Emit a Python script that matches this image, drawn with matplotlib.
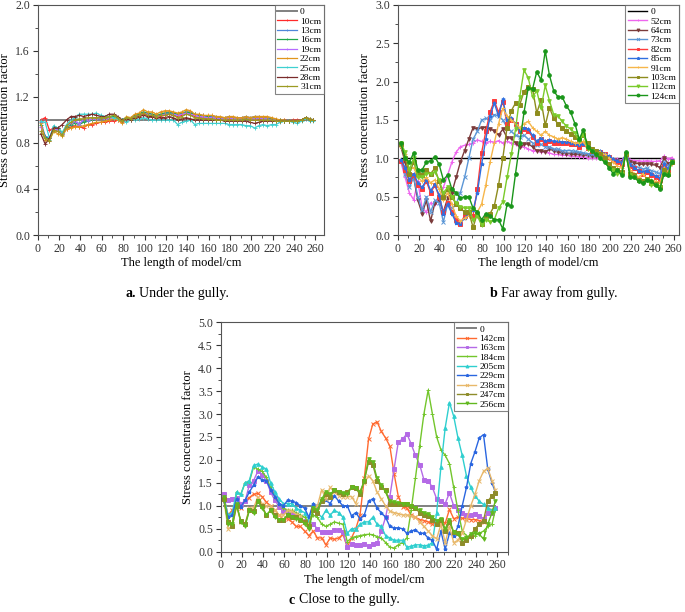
import matplotlib
matplotlib.use("Agg")
import matplotlib.pyplot as plt
from matplotlib.ticker import MultipleLocator, FormatStrFormatter

plt.rcParams['font.family'] = ['Liberation Serif', 'DejaVu Serif']

# sample positions along the model (cm)
x_cm = [3, 7, 11, 15, 19, 23, 27, 31, 35, 39,
        43, 47, 51, 55, 59, 63, 67, 71, 75, 79,
        83, 87, 91, 95, 99, 103, 107, 111, 115, 119,
        123, 127, 131, 135, 139, 143, 147, 151, 155, 159,
        163, 167, 171, 175, 179, 183, 187, 191, 195, 199,
        203, 207, 211, 215, 219, 223, 227, 231, 235, 239,
        243, 247, 251, 255, 258]
base_x = [3, 258]
base_y = [1.0, 1.0]

# ---- a. under the gully ----
a_labels = ['10cm', '13cm', '16cm', '19cm', '22cm', '25cm', '28cm', '31cm']
a_10 = [1.00, 1.02, 0.91, 0.93, 0.90, 0.88, 0.92, 0.94, 0.95, 0.94,
        0.93, 0.96, 0.96, 0.97, 0.98, 0.98, 0.99, 0.99, 1.00, 0.98,
        1.01, 1.00, 1.02, 1.03, 1.05, 1.04, 1.03, 1.02, 1.03, 1.04,
        1.05, 1.04, 1.03, 1.04, 1.06, 1.05, 1.03, 1.02, 1.02, 1.01,
        1.01, 1.01, 1.00, 1.00, 1.01, 1.01, 1.00, 1.01, 1.02, 1.01,
        1.00, 1.01, 1.01, 1.02, 1.01, 1.00, 0.99, 1.00, 0.99, 1.00,
        1.00, 1.00, 1.02, 1.00, 1.00]
a_13 = [0.98, 0.86, 0.84, 0.93, 0.92, 0.88, 0.93, 0.96, 0.98, 0.97,
        0.99, 0.99, 1.00, 1.01, 1.02, 1.01, 1.02, 1.03, 1.02, 1.00,
        1.02, 1.01, 1.04, 1.05, 1.07, 1.05, 1.05, 1.04, 1.05, 1.06,
        1.07, 1.06, 1.05, 1.06, 1.07, 1.07, 1.05, 1.04, 1.04, 1.03,
        1.03, 1.03, 1.02, 1.02, 1.03, 1.02, 1.02, 1.02, 1.03, 1.02,
        1.03, 1.03, 1.02, 1.02, 1.01, 1.00, 1.00, 0.99, 0.99, 0.99,
        0.99, 1.00, 1.02, 1.01, 1.00]
a_16 = [0.96, 0.85, 0.83, 0.94, 0.93, 0.89, 0.94, 0.96, 0.97, 0.96,
        0.98, 1.00, 1.00, 1.01, 1.02, 1.02, 1.03, 1.03, 1.02, 1.00,
        1.02, 1.02, 1.04, 1.05, 1.07, 1.06, 1.05, 1.04, 1.05, 1.06,
        1.06, 1.06, 1.05, 1.06, 1.07, 1.06, 1.05, 1.04, 1.03, 1.03,
        1.02, 1.02, 1.02, 1.01, 1.02, 1.01, 1.01, 1.01, 1.02, 1.01,
        1.02, 1.02, 1.01, 1.01, 1.01, 1.00, 1.00, 0.99, 0.99, 0.99,
        0.99, 1.00, 1.02, 1.01, 1.00]
a_19 = [0.94, 0.84, 0.82, 0.92, 0.91, 0.88, 0.95, 0.97, 0.99, 0.96,
        1.01, 1.00, 1.01, 1.01, 1.02, 1.01, 1.02, 1.02, 1.01, 0.99,
        1.01, 1.01, 1.03, 1.04, 1.06, 1.05, 1.04, 1.03, 1.04, 1.05,
        1.05, 1.05, 1.04, 1.05, 1.06, 1.05, 1.04, 1.03, 1.03, 1.02,
        1.02, 1.02, 1.01, 1.01, 1.02, 1.01, 1.01, 1.01, 1.02, 1.01,
        1.01, 1.02, 1.01, 1.01, 1.00, 1.00, 0.99, 0.99, 0.99, 0.99,
        0.99, 1.00, 1.01, 1.00, 1.00]
a_22 = [0.97, 0.83, 0.82, 0.90, 0.88, 0.86, 0.92, 0.93, 0.94, 0.94,
        0.95, 0.96, 0.97, 0.98, 0.98, 0.99, 1.00, 1.01, 1.00, 0.97,
        1.03, 1.02, 1.05, 1.06, 1.09, 1.07, 1.07, 1.05, 1.07, 1.08,
        1.08, 1.07, 1.06, 1.07, 1.09, 1.08, 1.05, 1.05, 1.04, 1.04,
        1.04, 1.03, 1.03, 1.02, 1.03, 1.03, 1.02, 1.02, 1.03, 1.02,
        1.03, 1.03, 1.03, 1.03, 1.02, 1.01, 1.00, 1.00, 0.99, 0.99,
        0.99, 1.00, 1.02, 1.01, 1.00]
a_25 = [0.99, 0.98, 0.84, 0.95, 0.93, 0.89, 0.96, 1.00, 1.02, 1.05,
        1.05, 1.05, 1.05, 1.06, 1.04, 1.03, 1.03, 1.02, 1.01, 1.00,
        0.98, 1.00, 1.00, 1.01, 1.02, 1.01, 1.00, 1.00, 1.00, 1.00,
        1.00, 1.00, 0.96, 0.98, 0.99, 1.00, 0.96, 0.97, 0.97, 0.97,
        0.97, 0.97, 0.97, 0.97, 0.96, 0.96, 0.96, 0.96, 0.95, 0.95,
        0.93, 0.95, 0.96, 0.95, 0.96, 0.96, 0.98, 0.99, 0.99, 0.98,
        0.97, 0.99, 1.01, 0.99, 0.99]
a_28 = [0.88, 0.79, 0.84, 0.93, 0.93, 0.96, 1.00, 1.03, 1.03, 1.04,
        1.03, 1.04, 1.05, 1.04, 1.03, 1.03, 1.05, 1.05, 1.03, 1.00,
        1.01, 1.00, 1.02, 1.03, 1.04, 1.03, 1.03, 1.02, 1.02, 1.02,
        1.03, 1.02, 1.00, 1.01, 1.02, 1.01, 1.00, 1.00, 1.00, 1.00,
        1.00, 1.00, 1.00, 0.99, 0.99, 0.99, 0.99, 0.99, 0.99, 0.98,
        0.97, 0.98, 0.99, 0.99, 0.99, 0.99, 0.99, 0.99, 0.99, 0.99,
        0.99, 1.00, 1.02, 1.00, 1.00]
a_31 = [0.90, 0.84, 0.82, 0.91, 0.90, 0.87, 0.95, 0.98, 1.00, 1.01,
        1.01, 1.02, 1.02, 1.02, 1.02, 1.02, 1.03, 1.04, 1.02, 0.99,
        1.02, 1.01, 1.03, 1.04, 1.06, 1.04, 1.04, 1.03, 1.04, 1.04,
        1.05, 1.04, 1.02, 1.03, 1.05, 1.04, 1.02, 1.02, 1.01, 1.01,
        1.01, 1.00, 1.00, 1.00, 1.00, 1.00, 1.00, 1.00, 1.01, 1.00,
        1.00, 1.00, 1.00, 1.00, 1.00, 0.99, 0.99, 0.99, 0.99, 0.99,
        0.99, 1.00, 1.02, 1.00, 1.00]

# ---- b. far away from gully ----
b_labels = ['52cm', '64cm', '73cm', '82cm', '85cm', '91cm', '103cm', '112cm', '124cm']
b_52 = [0.95, 0.75, 0.55, 0.46, 0.70, 0.35, 0.30, 0.42, 0.40, 0.50,
        0.62, 0.78, 0.95, 1.08, 1.15, 1.17, 1.18, 1.20, 1.24, 1.22,
        1.20, 1.22, 1.21, 1.23, 1.20, 1.22, 1.20, 1.18, 1.15, 1.15,
        1.12, 1.10, 1.10, 1.08, 1.09, 1.07, 1.05, 1.05, 1.04, 1.04,
        1.03, 1.03, 1.02, 1.02, 1.01, 1.00, 1.00, 1.00, 1.00, 1.00,
        0.99, 0.99, 0.98, 1.02, 0.98, 0.97, 0.97, 0.96, 0.97, 0.96,
        0.96, 0.97, 1.03, 0.99, 1.01]
b_64 = [1.15, 0.95, 0.70, 0.75, 0.45, 0.28, 0.45, 0.18, 0.42, 0.45,
        0.30, 0.48, 0.55, 0.75, 0.95, 1.10, 1.25, 1.40, 1.38, 1.40,
        1.40, 1.38, 1.36, 1.30, 1.38, 1.27, 1.26, 1.20, 1.15, 1.18,
        1.19, 1.15, 1.10, 1.10, 1.08, 1.12, 1.10, 1.08, 1.07, 1.06,
        1.06, 1.05, 1.05, 1.04, 1.04, 1.03, 1.03, 1.03, 1.02, 1.00,
        0.98, 0.96, 0.95, 1.05, 0.95, 0.94, 0.93, 0.92, 0.93, 0.92,
        0.91, 0.88, 1.00, 0.93, 0.96]
b_73 = [0.97, 0.80, 0.62, 0.75, 0.50, 0.32, 0.50, 0.30, 0.45, 0.42,
        0.17, 0.40, 0.35, 0.40, 0.55, 0.75, 1.00, 1.25, 1.35, 1.50,
        1.52, 1.50, 1.57, 1.55, 1.50, 1.40, 1.35, 1.30, 1.28, 1.30,
        1.25, 1.20, 1.17, 1.18, 1.15, 1.15, 1.12, 1.12, 1.10, 1.10,
        1.10, 1.09, 1.08, 1.07, 1.06, 1.05, 1.04, 1.04, 1.03, 1.00,
        0.97, 0.96, 0.94, 1.05, 0.93, 0.90, 0.88, 0.86, 0.87, 0.84,
        0.82, 0.80, 0.95, 0.90, 0.96]
b_82 = [0.97, 0.85, 0.70, 0.78, 0.65, 0.60, 0.70, 0.55, 0.65, 0.50,
        0.30, 0.42, 0.30, 0.20, 0.15, 0.25, 0.30, 0.25, 0.60, 1.07,
        1.35, 1.60, 1.75, 1.60, 1.74, 1.45, 1.50, 1.45, 1.35, 1.38,
        1.35, 1.28, 1.20, 1.25, 1.20, 1.22, 1.20, 1.20, 1.20, 1.20,
        1.18, 1.18, 1.15, 1.18, 1.13, 1.10, 1.08, 1.08, 1.05, 1.02,
        0.98, 0.95, 0.93, 1.05, 0.90, 0.87, 0.83, 0.80, 0.82, 0.78,
        0.75, 0.72, 0.90, 0.85, 0.95]
b_85 = [0.98, 0.88, 0.72, 0.80, 0.68, 0.62, 0.72, 0.58, 0.66, 0.52,
        0.28, 0.40, 0.28, 0.16, 0.15, 0.22, 0.28, 0.32, 0.55, 0.92,
        1.25, 1.55, 1.72, 1.55, 1.77, 1.50, 1.52, 1.45, 1.36, 1.40,
        1.38, 1.30, 1.22, 1.27, 1.22, 1.24, 1.22, 1.22, 1.21, 1.21,
        1.20, 1.19, 1.17, 1.19, 1.14, 1.11, 1.09, 1.09, 1.06, 1.03,
        0.99, 0.96, 0.94, 1.06, 0.91, 0.88, 0.84, 0.82, 0.84, 0.80,
        0.77, 0.74, 0.92, 0.86, 0.96]
b_91 = [1.15, 1.05, 0.85, 0.88, 0.75, 0.70, 0.75, 0.68, 0.72, 0.60,
        0.45, 0.55, 0.40, 0.25, 0.18, 0.22, 0.25, 0.35, 0.30, 0.40,
        0.65, 0.95, 1.20, 1.45, 1.65, 1.55, 1.50, 1.45, 1.40, 1.45,
        1.48, 1.40, 1.35, 1.30, 1.35, 1.30, 1.28, 1.25, 1.27, 1.25,
        1.22, 1.20, 1.20, 1.22, 1.12, 1.10, 1.10, 1.08, 1.05, 1.00,
        0.95, 0.90, 0.88, 1.05, 0.85, 0.80, 0.75, 0.80, 0.73, 0.72,
        0.70, 0.68, 0.88, 0.82, 0.93]
b_103 = [1.18, 1.00, 0.80, 0.95, 0.80, 0.78, 0.85, 0.80, 0.87, 0.70,
         0.50, 0.60, 0.50, 0.40, 0.35, 0.30, 0.30, 0.10, 0.28, 0.15,
         0.22, 0.28, 0.38, 0.65, 1.00, 1.40, 1.62, 1.72, 1.70, 1.87,
         1.93, 1.91, 1.59, 1.76, 1.43, 1.66, 1.52, 1.45, 1.40, 1.35,
         1.32, 1.28, 1.25, 1.30, 1.20, 1.12, 1.10, 1.05, 1.00, 0.92,
         0.88, 0.85, 0.82, 1.05, 0.80, 0.78, 0.72, 0.70, 0.73, 0.68,
         0.67, 0.62, 0.85, 0.80, 0.95]
b_112 = [1.20, 1.08, 0.85, 1.00, 0.75, 0.75, 0.80, 0.80, 0.82, 0.72,
         0.55, 0.62, 0.50, 0.42, 0.37, 0.35, 0.35, 0.20, 0.25, 0.13,
         0.20, 0.17, 0.20, 0.35, 0.43, 0.75, 1.05, 1.38, 1.80, 2.15,
         2.05, 1.80, 1.88, 1.65, 1.95, 1.75, 1.57, 1.55, 1.48, 1.42,
         1.38, 1.33, 1.22, 1.32, 1.12, 1.10, 1.05, 1.00, 0.95, 0.88,
         0.85, 0.80, 0.80, 1.05, 0.78, 0.75, 0.70, 0.68, 0.72, 0.65,
         0.65, 0.62, 0.80, 0.78, 0.95]
b_124 = [1.20, 1.00, 0.95, 1.07, 0.85, 0.85, 0.95, 0.97, 1.02, 0.92,
         0.72, 0.78, 0.60, 0.55, 0.48, 0.50, 0.50, 0.35, 0.30, 0.20,
         0.28, 0.25, 0.20, 0.20, 0.08, 0.40, 0.38, 0.80, 1.20, 1.60,
         1.92, 1.90, 2.13, 2.02, 2.40, 2.08, 1.88, 1.80, 1.80, 1.68,
         1.60, 1.45, 1.25, 1.37, 1.15, 1.10, 1.05, 1.00, 0.95, 0.88,
         0.80, 0.85, 0.78, 1.08, 0.75, 0.75, 0.70, 0.68, 0.72, 0.70,
         0.65, 0.60, 0.80, 0.78, 0.95]

# ---- c. close to the gully ----
c_labels = ['142cm', '163cm', '184cm', '205cm', '229cm', '238cm', '247cm', '256cm']
c_142 = [1.20, 0.80, 0.90, 1.02, 0.95, 1.10, 1.18, 1.25, 1.27, 1.20,
         1.08, 1.00, 0.90, 0.80, 0.70, 0.72, 0.65, 0.55, 0.55, 0.45,
         0.35, 0.45, 0.30, 0.30, 0.15, 0.30, 0.27, 0.30, 0.38, 0.10,
         0.30, 0.50, 0.80, 1.60, 2.45, 2.78, 2.83, 2.62, 2.48, 2.30,
         1.70, 1.20, 0.98, 0.95, 0.80, 0.75, 0.70, 0.68, 0.65, 0.60,
         0.62, 0.65, 0.62, 0.92, 0.72, 0.75, 0.73, 0.72, 0.70, 0.70,
         0.68, 0.65, 0.85, 0.90, 0.95]
c_163 = [1.25, 1.12, 1.15, 1.18, 1.05, 1.10, 1.45, 1.55, 1.75, 1.68,
         1.55, 1.30, 1.12, 0.98, 0.88, 0.82, 0.82, 0.78, 0.72, 0.68,
         0.60, 0.60, 0.50, 0.42, 0.42, 0.42, 0.48, 0.48, 0.42, 0.10,
         0.17, 0.15, 0.15, 0.17, 0.12, 0.17, 0.18, 0.45, 0.75, 1.20,
         1.80, 2.40, 2.45, 2.57, 2.35, 2.10, 1.90, 1.57, 1.55, 1.40,
         1.15, 1.10, 1.05, 1.28, 1.00, 0.90, 0.85, 0.80, 0.80, 0.82,
         0.78, 0.72, 0.85, 0.85, 0.95]
c_184 = [1.15, 0.70, 0.60, 1.30, 1.25, 1.50, 1.52, 1.85, 1.80, 1.75,
         1.62, 1.40, 1.20, 1.05, 0.95, 0.90, 0.90, 0.85, 0.80, 0.75,
         0.65, 0.80, 0.75, 0.60, 0.55, 0.60, 0.65, 0.62, 0.60, 0.22,
         0.30, 0.33, 0.35, 0.37, 0.38, 0.37, 0.33, 0.30, 0.20, 0.10,
         0.08, 0.15, 0.20, 0.30, 0.90, 1.60, 2.30, 3.00, 3.52, 3.00,
         2.50, 2.22, 2.10, 1.92, 1.40, 0.90, 0.45, 0.35, 0.30, 0.35,
         0.40, 0.45, 0.55, 0.60, 0.90]
c_205 = [1.20, 0.80, 0.85, 1.30, 1.25, 1.50, 1.55, 1.88, 1.91, 1.85,
         1.80, 1.50, 1.30, 1.15, 1.05, 1.05, 1.05, 0.95, 0.90, 0.85,
         0.70, 1.05, 0.85, 0.75, 0.90, 0.80, 0.90, 0.85, 0.75, 0.40,
         0.50, 0.50, 0.60, 0.65, 0.65, 0.75, 0.60, 0.55, 0.35, 0.30,
         0.25, 0.25, 0.25, 0.10, 0.12, 0.15, 0.15, 0.13, 0.14, 0.20,
         0.85, 1.85, 2.70, 3.25, 2.95, 2.48, 2.10, 1.65, 1.40, 1.22,
         1.10, 1.03, 0.95, 0.90, 0.95]
c_229 = [1.10, 0.75, 0.80, 1.15, 0.98, 1.12, 1.30, 1.45, 1.63, 1.57,
         1.55, 1.35, 1.20, 1.05, 1.00, 1.12, 1.10, 1.07, 1.00, 0.95,
         0.75, 1.05, 1.00, 1.10, 1.12, 1.05, 1.22, 1.10, 1.00, 1.00,
         0.78, 0.85, 0.72, 0.80, 1.10, 1.15, 0.95, 0.85, 0.75, 0.55,
         0.52, 0.52, 0.50, 0.40, 0.45, 0.48, 0.40, 0.40, 0.30, 0.25,
         0.05, 0.45, 0.05, 0.40, 0.35, 0.55, 1.00, 1.40, 1.92, 2.18,
         2.48, 2.55, 1.80, 1.50, 1.30]
c_238 = [1.15, 0.50, 0.55, 1.00, 0.65, 0.60, 0.95, 0.95, 1.20, 1.05,
         1.00, 1.00, 0.90, 0.80, 0.80, 0.90, 0.88, 0.82, 0.78, 0.65,
         0.60, 0.90, 1.00, 1.35, 1.15, 1.40, 1.30, 1.22, 1.20, 1.20,
         1.20, 1.05, 1.32, 1.50, 1.65, 1.55, 1.30, 1.15, 1.00, 0.88,
         0.85, 0.83, 0.80, 0.80, 0.78, 0.75, 0.65, 0.55, 0.45, 0.35,
         0.28, 0.60, 0.20, 0.55, 0.20, 0.25, 0.40, 0.70, 1.00, 1.25,
         1.55, 1.75, 1.82, 1.55, 1.35]
c_247 = [1.15, 0.65, 0.55, 1.00, 0.68, 0.60, 0.90, 0.88, 1.10, 1.00,
         0.80, 0.90, 0.80, 0.70, 0.70, 0.80, 0.75, 0.75, 0.70, 0.65,
         0.55, 0.90, 0.85, 1.10, 1.25, 1.20, 1.35, 1.30, 1.25, 1.30,
         1.40, 1.38, 1.25, 1.55, 1.95, 1.90, 1.55, 1.40, 1.35, 1.05,
         1.05, 1.05, 1.05, 1.03, 1.00, 0.95, 0.85, 0.80, 0.78, 0.70,
         0.60, 0.70, 0.45, 0.65, 0.42, 0.40, 0.20, 0.25, 0.35, 0.50,
         0.60, 0.68, 1.10, 1.22, 1.27]
c_256 = [1.20, 0.60, 0.60, 1.05, 0.65, 0.55, 0.90, 0.85, 1.10, 0.95,
         0.80, 0.90, 0.75, 0.70, 0.70, 0.80, 0.75, 0.72, 0.70, 0.60,
         0.50, 0.95, 0.90, 1.15, 1.30, 1.25, 1.35, 1.30, 1.28, 1.25,
         1.40, 1.38, 1.30, 1.55, 2.02, 1.95, 1.60, 1.45, 1.30, 1.10,
         1.08, 1.07, 1.05, 1.03, 1.00, 0.95, 0.90, 0.85, 0.82, 0.75,
         0.68, 0.72, 0.50, 0.70, 0.42, 0.38, 0.28, 0.30, 0.38, 0.40,
         0.38, 0.28, 0.60, 0.85, 1.10]

a_series = [a_10, a_13, a_16, a_19, a_22, a_25, a_28, a_31]
a_colors = ['#ff2a2a', '#4f86d9', '#1fa84a', '#b56bff', '#e0951c', '#3fd0d0', '#7a2b2b', '#9c9a22']
b_series = [b_52, b_64, b_73, b_82, b_85, b_91, b_103, b_112, b_124]
b_colors = ['#ee66ee', '#7b3b3b', '#5b96d6', '#ff3b3b', '#2f6fe0', '#f6b64a', '#8e8c1e', '#7acb2a', '#1a961a']
b_markers = ['+', 'v', 'x', 's', '*', '+', 's', 'v', 'o']
c_series = [c_142, c_163, c_184, c_205, c_229, c_238, c_247, c_256]
c_colors = ['#ff6a30', '#b46ae6', '#73c62c', '#2fcfcf', '#2a66e0', '#e8b86a', '#8e8c2a', '#62b81f']
c_markers = ['x', 's', '+', '^', '*', 'x', 's', 'v']

fig = plt.figure(figsize=(6.85, 6.12), dpi=100)
ax_a = fig.add_axes([0.055, 0.616, 0.418, 0.376])
ax_b = fig.add_axes([0.5806, 0.616, 0.4106, 0.376])
ax_c = fig.add_axes([0.322, 0.0985, 0.4196, 0.375])


def style(ax, ymax, ystep, xmax):
    ax.set_xlim(0, xmax)
    ax.set_ylim(0, ymax)
    ax.xaxis.set_major_locator(MultipleLocator(20))
    ax.xaxis.set_minor_locator(MultipleLocator(10))
    ax.yaxis.set_major_locator(MultipleLocator(ystep))
    ax.yaxis.set_minor_locator(MultipleLocator(ystep / 2))
    ax.yaxis.set_major_formatter(FormatStrFormatter('%.1f'))
    ax.tick_params(which='both', direction='out', top=False, right=False,
                   labelsize=8.5, colors='#333333', pad=2)
    ax.tick_params(which='major', length=3.5)
    ax.tick_params(which='minor', length=2)
    for s in ax.spines.values():
        s.set_color('#555555')
        s.set_linewidth(0.8)
    ax.set_xlabel('The length of model/cm', fontsize=9, labelpad=2)
    ax.set_ylabel('Stress concentration factor', fontsize=9, labelpad=3)
    leg = ax.legend(loc='upper right', fontsize=6.8, frameon=True, fancybox=False,
                    edgecolor='#666666', borderaxespad=0, handlelength=2.1,
                    handletextpad=0.3, labelspacing=0.08, borderpad=0.3,
                    markerscale=0.8)
    leg.get_frame().set_linewidth(0.8)


# panel a
ax_a.plot(base_x, base_y, color='#808080', lw=1.4, label='0')
for lab, ys, col in zip(a_labels, a_series, a_colors):
    ax_a.plot(x_cm, ys, color=col, lw=0.9, marker='+', ms=2.5, mew=0.6, label=lab)
style(ax_a, 2.0, 0.4, 268)

# panel b
ax_b.plot(base_x, base_y, color='black', lw=1.0, label='0')
for lab, ys, col, mk in zip(b_labels, b_series, b_colors, b_markers):
    ax_b.plot(x_cm, ys, color=col, lw=1.0, marker=mk, ms=2.6, mew=0.7, label=lab)
style(ax_b, 3.0, 0.5, 265)

# panel c
ax_c.plot(base_x, base_y, color='#808080', lw=1.4, label='0')
for lab, ys, col, mk in zip(c_labels, c_series, c_colors, c_markers):
    ax_c.plot(x_cm, ys, color=col, lw=1.0, marker=mk, ms=2.6, mew=0.7, label=lab)
style(ax_c, 5.0, 0.5, 270)

# captions
fig.text(0.199, 1 - 293 / 612, 'a.', fontsize=10, fontweight='bold', ha='right', va='center')
fig.text(0.203, 1 - 293 / 612, 'Under the gully.', fontsize=10, ha='left', va='center')
fig.text(0.727, 1 - 293 / 612, 'b', fontsize=10, fontweight='bold', ha='right', va='center')
fig.text(0.731, 1 - 293 / 612, 'Far away from gully.', fontsize=10, ha='left', va='center')
fig.text(0.430, 1 - 600 / 612, 'c', fontsize=10, fontweight='bold', ha='right', va='center')
fig.text(0.437, 1 - 600 / 612, 'Close to the gully.', fontsize=10, ha='left', va='center')

fig.savefig('out.png', dpi=100)
